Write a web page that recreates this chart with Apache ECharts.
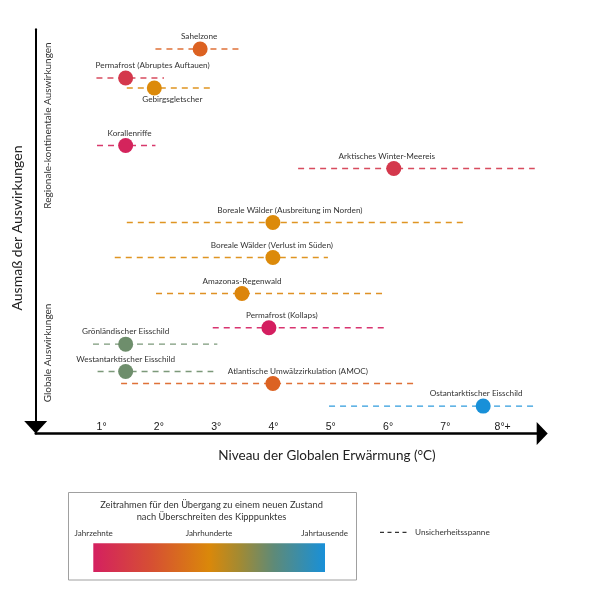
<!DOCTYPE html>
<html>
<head>
<meta charset="utf-8">
<script src="https://cdn.jsdelivr.net/npm/echarts@6/dist/echarts.min.js"></script>
<style>html,body{margin:0;padding:0;background:#fff}#c{width:600px;height:600px}</style>
</head>
<body>
<div id="c"></div>
<script>
// ---- data ----
const names = [
  'Sahelzone',
  'Permafrost (Abruptes Auftauen)',
  'Gebirgsgletscher',
  'Korallenriffe',
  'Arktisches Winter-Meereis',
  'Boreale Wälder (Ausbreitung im Norden)',
  'Boreale Wälder (Verlust im Süden)',
  'Amazonas-Regenwald',
  'Permafrost (Kollaps)',
  'Grönländischer Eisschild',
  'Westantarktischer Eisschild',
  'Atlantische Umwälzzirkulation (AMOC)',
  'Ostantarktischer Eisschild'
];
const warming   = [2.72, 1.42, 1.92, 1.42, 6.10, 3.99, 3.99, 3.45, 3.92, 1.42, 1.42, 3.99, 7.66];
const rangeLow  = [1.94, 0.91, 1.44, 0.92, 4.43, 1.44, 1.23, 1.95, 2.94, 0.85, 0.93, 1.34, 4.97];
const rangeHigh = [3.47, 2.09, 2.94, 1.94, 8.56, 7.34, 4.95, 5.98, 5.96, 3.02, 2.95, 6.44, 8.57];
const impact    = [1.95, 4.82, 5.81, 11.5, 13.78, 19.12, 22.58, 26.14, 29.54, 31.16, 33.86, 35.05, 37.29];
const tickValues = [1, 2, 3, 4, 5, 6, 7, 8];
const tickLabels = ['1°', '2°', '3°', '4°', '5°', '6°', '7°', '8°+'];

// ---- styling ----
const colors = ['#dc6222', '#d4384c', '#dc8a0a', '#d4245c', '#d4384c', '#dc8a0a', '#dc8a0a',
                '#dc850c', '#d41e60', '#6e8e6c', '#6e8e6c', '#dc6222', '#1890d8'];
const labelDx = [-1, 27, 18, 4, -7, 17, -1, 0, 13, 0, 0, 25, -7];
const labelBelow = [false, false, true, false, false, false, false, false, false, false, false, false, false];
const TXT = '#333333';
const FONT = 'Lato';

const chart = echarts.init(document.getElementById('c'), null, {renderer: 'canvas'});

const option = {
  animation: false,
  backgroundColor: '#ffffff',
  grid: {left: 35.7, top: 29.3, right: 57.8, bottom: 166.5, containLabel: false},
  xAxis: {
    type: 'value', min: -0.15, max: 8.69,
    splitLine: {show: false},
    axisTick: {show: false},
    axisLine: {show: true, onZero: false, symbol: ['none', 'triangle'], symbolSize: [23, 11],
      lineStyle: {color: '#000', width: 2.5}},
    axisLabel: {inside: true, margin: 1, customValues: tickValues,
      formatter: v => tickLabels[tickValues.indexOf(v)] || '',
      fontFamily: 'Liberation Sans', fontSize: 10.5, color: '#1a1a1a'}
  },
  yAxis: {
    type: 'value', min: 0, max: 40, inverse: true,
    splitLine: {show: false},
    axisTick: {show: false},
    axisLabel: {show: false},
    axisLine: {show: true, onZero: false, symbol: ['triangle', 'none'], symbolSize: [23, 12.6], symbolOffset: [6.3, 0],
      lineStyle: {color: '#000', width: 2}}
  },
  series: [
    {
      type: 'custom',
      silent: true,
      data: names.map((n, i) => [rangeLow[i], rangeHigh[i], impact[i]]),
      encode: {x: [0, 1], y: 2},
      renderItem: function (params, api) {
        const y = api.value(2);
        const p1 = api.coord([api.value(0), y]);
        const p2 = api.coord([api.value(1), y]);
        return {
          type: 'line',
          shape: {x1: p1[0], y1: p1[1], x2: p2[0], y2: p2[1]},
          style: {stroke: colors[params.dataIndex], lineWidth: 1.4, lineDash: [6, 5], opacity: 0.9}
        };
      },
      z: 1
    },
    {
      type: 'scatter',
      symbolSize: 15,
      z: 2,
      data: names.map((n, i) => ({
        name: n,
        value: [warming[i], impact[i]],
        itemStyle: {color: colors[i], opacity: 1},
        label: {
          show: true,
          formatter: n,
          position: labelBelow[i] ? 'bottom' : 'top',
          distance: labelBelow[i] ? 0 : 1,
          offset: [labelDx[i], 0],
          fontFamily: FONT, fontSize: 8.2, color: TXT
        }
      })),
      emphasis: {disabled: true}
    }
  ],
  graphic: [
    {type: 'text', x: 17, y: 228, rotation: Math.PI / 2,
      style: {text: 'Ausmaß der Auswirkungen', font: '14px Lato', fill: '#222', align: 'center', verticalAlign: 'middle'}},
    {type: 'text', x: 47.5, y: 125.5, rotation: Math.PI / 2,
      style: {text: 'Regionale-kontinentale Auswirkungen', font: '10px Lato', fill: TXT, align: 'center', verticalAlign: 'middle'}},
    {type: 'text', x: 47.5, y: 353, rotation: Math.PI / 2,
      style: {text: 'Globale Auswirkungen', font: '10px Lato', fill: TXT, align: 'center', verticalAlign: 'middle'}},
    {type: 'text', x: 327, y: 456,
      style: {text: 'Niveau der Globalen Erwärmung (°C)', font: '13.5px Lato', fill: '#222', align: 'center', verticalAlign: 'middle'}},
    {type: 'rect', shape: {x: 68.5, y: 492.5, width: 288, height: 87.5},
      style: {fill: 'none', stroke: '#a0a0a0', lineWidth: 1}},
    {type: 'text', x: 211.5, y: 505,
      style: {text: 'Zeitrahmen für den Übergang zu einem neuen Zustand', font: '9.3px Lato', fill: TXT, align: 'center', verticalAlign: 'middle'}},
    {type: 'text', x: 211.5, y: 516.7,
      style: {text: 'nach Überschreiten des Kipppunktes', font: '9.3px Lato', fill: TXT, align: 'center', verticalAlign: 'middle'}},
    {type: 'text', x: 93.7, y: 533.3,
      style: {text: 'Jahrzehnte', font: '8px Lato', fill: TXT, align: 'center', verticalAlign: 'middle'}},
    {type: 'text', x: 209, y: 533.3,
      style: {text: 'Jahrhunderte', font: '8px Lato', fill: TXT, align: 'center', verticalAlign: 'middle'}},
    {type: 'text', x: 324.7, y: 533.3,
      style: {text: 'Jahrtausende', font: '8px Lato', fill: TXT, align: 'center', verticalAlign: 'middle'}},
    {type: 'rect', shape: {x: 93.3, y: 543.3, width: 231.7, height: 28.7},
      style: {fill: new echarts.graphic.LinearGradient(0, 0, 1, 0, [
        {offset: 0, color: '#d42060'},
        {offset: 0.25, color: '#d64f33'},
        {offset: 0.5, color: '#da880a'},
        {offset: 0.63, color: '#a38a32'},
        {offset: 0.78, color: '#5e8a78'},
        {offset: 1, color: '#1890d8'}
      ])}},
    {type: 'line', shape: {x1: 380, y1: 532.3, x2: 408, y2: 532.3},
      style: {stroke: '#333', lineWidth: 1.2, lineDash: [4, 3.5]}},
    {type: 'text', x: 415, y: 532.3,
      style: {text: 'Unsicherheitsspanne', font: '8.2px Lato', fill: TXT, align: 'left', verticalAlign: 'middle'}}
  ]
};
chart.setOption(option);
</script>
</body>
</html>
